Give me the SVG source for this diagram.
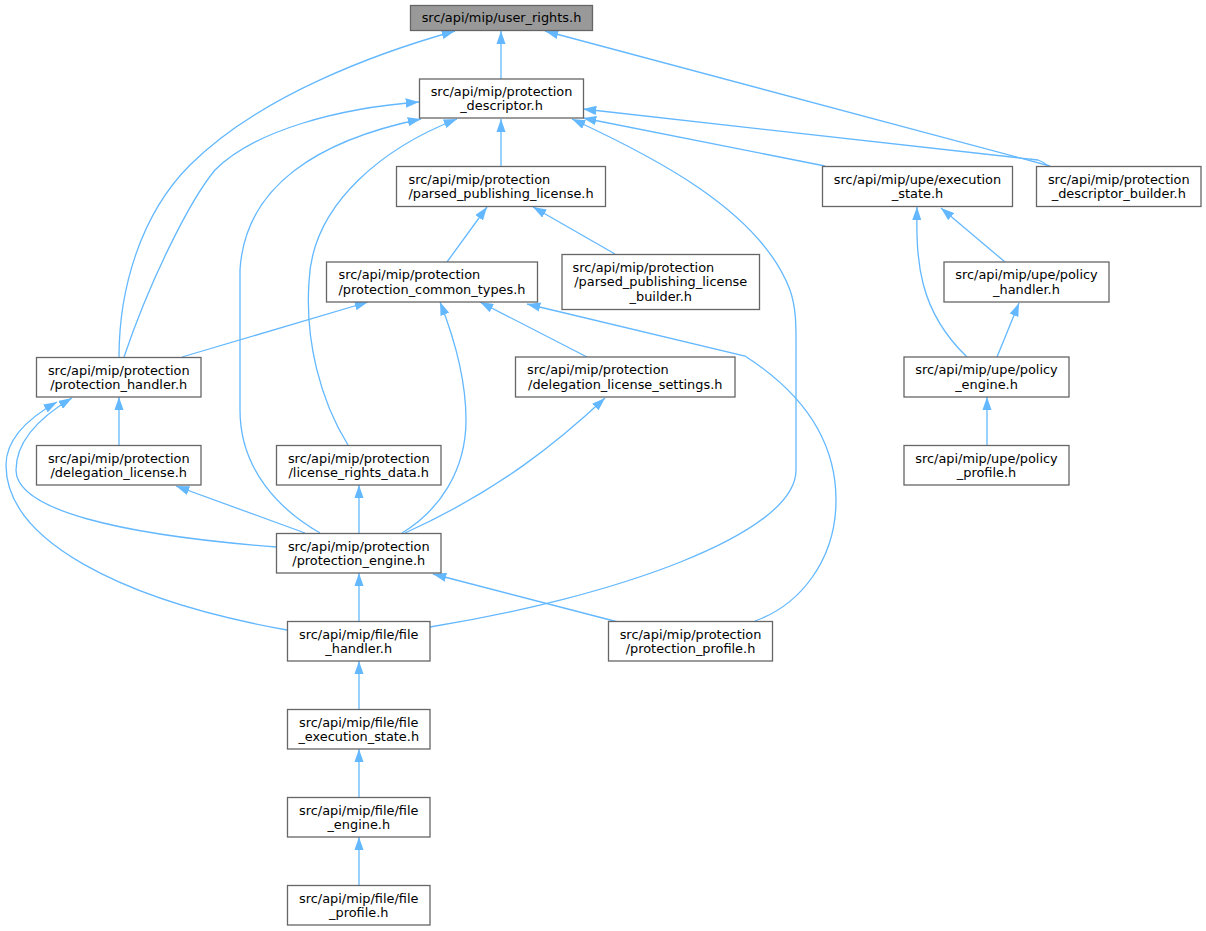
<svg xmlns="http://www.w3.org/2000/svg" width="1206" height="931" viewBox="0 0 1206 931">
<defs>
<style>
.n rect{fill:#ffffff;stroke:#666666;stroke-width:1.3}
.n.root rect{fill:#999999}
.n text{font-family:"DejaVu Sans","Liberation Sans",sans-serif;font-size:12.9px;fill:#000000;text-anchor:middle}
.n text.l{text-anchor:start}
#edges path{fill:none;stroke:#63b8ff;stroke-width:1.3;marker-start:url(#ah)}
</style>
<marker id="ah" viewBox="0 0 13.3 9.3" refX="13.3" refY="4.65" markerWidth="13.3" markerHeight="9.3" markerUnits="userSpaceOnUse" orient="auto-start-reverse">
<path d="M0,0 L13.3,4.65 L0,9.3 z" fill="#63b8ff"/>
</marker>
</defs>
<rect width="1206" height="931" fill="#ffffff"/>
<g id="edges">
<path d="M501,31 L501,79"/>
<path d="M455,31 C380,52 260,95 190,165 C140,215 119,290 119,357"/>
<path d="M545,31 L1050,166"/>
<path d="M419,102 C340,108 255,130 215,170 C190,200 150,280 124,357"/>
<path d="M421,119 C320,140 245,185 240,270 L240,410 C240,470 280,510 320,533"/>
<path d="M457,119 C390,145 312,200 309,282 C305,340 320,400 348,445"/>
<path d="M501,119 L501,166"/>
<path d="M572,119 C650,155 760,210 790,290 C797,310 796,330 796,360 L796,470 C796,535 610,598 430,627"/>
<path d="M583,118 L825,166"/>
<path d="M583,109 L1038,160 Q1044,162 1048,166"/>
<path d="M487,207 L447,262"/>
<path d="M533,207 L615,254"/>
<path d="M368,302 L182,357"/>
<path d="M480,302 L587,357"/>
<path d="M440,302 C455,340 466,380 466,420 C466,470 440,510 402,533"/>
<path d="M527,304 L745,356 C790,385 836,430 836,500 C836,560 800,605 755,621"/>
<path d="M941,208 L1005,262"/>
<path d="M917,207 C916,260 918,310 967,357"/>
<path d="M1019,303 L997,357"/>
<path d="M987,397 L987,445"/>
<path d="M119,397 L119,445"/>
<path d="M72,398 C35,420 16,445 16,470 C16,510 120,535 277,547"/>
<path d="M57,402 C25,420 6,440 6,465 C6,540 120,600 287,630"/>
<path d="M176,486 L305,533"/>
<path d="M359,485 L359,533"/>
<path d="M605,398 C560,440 500,490 405,533"/>
<path d="M359,573 L359,621"/>
<path d="M433,574 L618,622"/>
<path d="M359,661 L359,709"/>
<path d="M359,749 L359,797"/>
<path d="M359,837 L359,885"/>
</g>
<g id="user_rights" class="n root"><rect x="410.5" y="5.5" width="182" height="25"/><text x="501.5" y="22">src/api/mip/user_rights.h</text></g>
<g id="protection_descriptor" class="n"><rect x="419.5" y="79" width="164" height="39"/><text x="501.5" y="95.5">src/api/mip/protection</text><text x="501.5" y="110">_descriptor.h</text></g>
<g id="parsed_publishing_license" class="n"><rect x="396.5" y="166.5" width="209" height="40"/><text class="l" x="408.5" y="183.5">src/api/mip/protection</text><text x="501" y="198">/parsed_publishing_license.h</text></g>
<g id="execution_state" class="n"><rect x="822.5" y="166.5" width="190" height="40"/><text x="917.5" y="183.5">src/api/mip/upe/execution</text><text x="917.5" y="198">_state.h</text></g>
<g id="protection_descriptor_builder" class="n"><rect x="1036.5" y="166.5" width="164.5" height="40"/><text x="1118.75" y="183.5">src/api/mip/protection</text><text x="1118.75" y="198">_descriptor_builder.h</text></g>
<g id="parsed_publishing_license_builder" class="n"><rect x="562" y="254.5" width="197.5" height="55"/><text class="l" x="572.5" y="271.5">src/api/mip/protection</text><text x="660.75" y="286">/parsed_publishing_license</text><text x="660.75" y="300.5">_builder.h</text></g>
<g id="protection_common_types" class="n"><rect x="326.5" y="262" width="211" height="40"/><text class="l" x="338.5" y="279">src/api/mip/protection</text><text x="432" y="293.5">/protection_common_types.h</text></g>
<g id="policy_handler" class="n"><rect x="944" y="262" width="165" height="40"/><text x="1026.5" y="279">src/api/mip/upe/policy</text><text x="1026.5" y="293.5">_handler.h</text></g>
<g id="protection_handler" class="n"><rect x="36.5" y="357.5" width="164.5" height="39.5"/><text x="118.75" y="374.5">src/api/mip/protection</text><text x="118.75" y="389">/protection_handler.h</text></g>
<g id="delegation_license_settings" class="n"><rect x="515.5" y="357" width="219.5" height="40"/><text class="l" x="527" y="374">src/api/mip/protection</text><text x="625.25" y="388.5">/delegation_license_settings.h</text></g>
<g id="policy_engine" class="n"><rect x="904" y="357" width="165" height="40"/><text x="986.5" y="374">src/api/mip/upe/policy</text><text x="986.5" y="388.5">_engine.h</text></g>
<g id="delegation_license" class="n"><rect x="36.5" y="445.5" width="164.5" height="39.5"/><text x="118.75" y="462.5">src/api/mip/protection</text><text x="118.75" y="477">/delegation_license.h</text></g>
<g id="license_rights_data" class="n"><rect x="276.5" y="445.5" width="164.5" height="39.5"/><text x="358.75" y="462.5">src/api/mip/protection</text><text x="358.75" y="477">/license_rights_data.h</text></g>
<g id="policy_profile" class="n"><rect x="904" y="445.5" width="165" height="39.5"/><text x="986.5" y="462.5">src/api/mip/upe/policy</text><text x="986.5" y="477">_profile.h</text></g>
<g id="protection_engine" class="n"><rect x="276.5" y="533.5" width="164.5" height="39.5"/><text x="358.75" y="550.5">src/api/mip/protection</text><text x="358.75" y="565">/protection_engine.h</text></g>
<g id="file_handler" class="n"><rect x="287.5" y="621.5" width="142.5" height="39.5"/><text x="358.75" y="638.5">src/api/mip/file/file</text><text x="358.75" y="653">_handler.h</text></g>
<g id="protection_profile" class="n"><rect x="608.5" y="621.5" width="164" height="39.5"/><text x="690.5" y="638.5">src/api/mip/protection</text><text x="690.5" y="653">/protection_profile.h</text></g>
<g id="file_execution_state" class="n"><rect x="287.5" y="709.5" width="142.5" height="39.5"/><text x="358.75" y="726.5">src/api/mip/file/file</text><text x="358.75" y="741">_execution_state.h</text></g>
<g id="file_engine" class="n"><rect x="287.5" y="797.5" width="142.5" height="39.5"/><text x="358.75" y="814.5">src/api/mip/file/file</text><text x="358.75" y="829">_engine.h</text></g>
<g id="file_profile" class="n"><rect x="287.5" y="885.5" width="142.5" height="39.5"/><text x="358.75" y="902.5">src/api/mip/file/file</text><text x="358.75" y="917">_profile.h</text></g>
</svg>
